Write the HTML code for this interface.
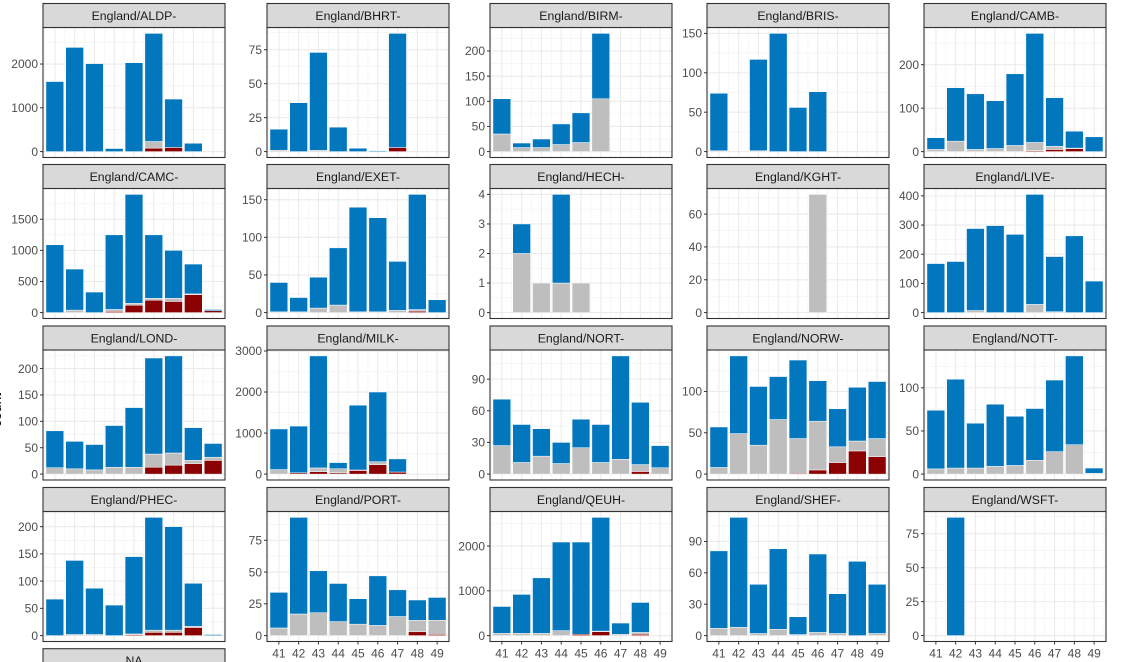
<!DOCTYPE html>
<html><head><meta charset="utf-8"><style>
html,body{margin:0;padding:0;background:#fff;}
svg{display:block;font-family:"Liberation Sans",Arial,sans-serif;}
</style></head><body>
<svg id="chart" width="1128" height="662" viewBox="0 0 1128 662"></svg>
<script>
const categories = [41,42,43,44,45,46,47,48,49];
const panelNames = ["England/ALDP-","England/BHRT-","England/BIRM-","England/BRIS-","England/CAMB-",
"England/CAMC-","England/EXET-","England/HECH-","England/KGHT-","England/LIVE-",
"England/LOND-","England/MILK-","England/NORT-","England/NORW-","England/NOTT-",
"England/PHEC-","England/PORT-","England/QEUH-","England/SHEF-","England/WSFT-"];
const redValues = [
[0,0,0,0,0,80,95,0,0],[0,0,0,0,0,0,3,0,0],[0,0,0,0,0,0,0,0,0],[0,0,0,0,0,0,0,0,0],[0,0,0,0,0,2,5,7,0],
[0,0,0,20,120,200,180,290,30],[0,0,0,0,0,0,0,2,0],[0,0,0,0,0,0,0,0,0],[0,0,0,0,0,0,0,0,0],[0,0,0,0,0,0,0,0,0],
[0,0,0,0,0,13,17,20,26],[0,30,60,30,90,230,50,0,0],[0,0,0,0,0,0,0,2.5,0],[0,0,0,0,1,5,14,28,21],[0,0,0,0,0,0,0,0,0],
[0,0,0,0,2,6,6,15,0],[0,0,0,0,0,0,0,3,1],[0,0,0,0,30,90,0,30,0],[0,0,0,0,0,0,0,0,0],[0,0,0,0,0,0,0,0,0]];
const greyValues = [
[0,0,0,0,0,150,0,0,0],[1,0,1,0,0,0,0,0,0],[35,8,8,14,18,105,0,0,0],[1,0,1,0,0,0,0,0,0],[5,24,5,7,14,19,7,1,0],
[0,40,0,30,30,30,50,10,0],[1,1,6,10,1,1,3,2,0],[0,2,1,1,1,0,0,0,0],[0,0,0,0,0,72,0,0,0],[0,0,7,0,0,28,3,0,0],
[12,10,8,13,13,25,23,6,6],[110,0,90,100,10,70,0,0,0],[27,11,17,10,25,11,14,6.5,6],[8,49,35,66,42,59,19,12,22],[6,7,7,9,10,16,26,34,1],
[0,2,2,0,1,4,4,2,0],[6,17,18,11,9,8,15,9,11],[50,50,50,110,0,10,30,40,0],[7,8,2,6,1,3,2,0,2],[0,0,0,0,0,0,0,0,0]];
const blueValues = [
[1600,2380,2010,70,2030,2470,1105,190,0],[15.5,36,72,18,2.5,0.7,84,0,0],[70,9,17,41,59,130,0,0,0],[73,0,116,150,56,76,0,0,0],[27,123,128,110,165,251,112,39,34],
[1090,660,330,1200,1750,1020,770,480,20],[39,19,41,76,139,125,65,153,17],[0,1,0,3,0,0,0,0,0],[0,0,0,0,0,0,0,0,0],[168,175,281,298,268,377,189,263,108],
[70,52,48,79,113,182,184,62,26],[990,1140,2730,150,1580,1700,320,0,0],[44,36,26,20,27,36,98,59,21],[49,94,71,52,95,49,46,65,69],[68,103,52,72,57,60,83,103,6],
[67,136,85,56,142,207,190,79,2],[28,76,33,30,20,39,21,16,18],[600,870,1240,1980,2060,2540,250,670,0],[74,105,47,77,17,75,38,71,47],[0,87,0,0,0,0,0,0,0]];
const yTicks = [
[0,1000,2000],[0,25,50,75],[0,50,100,150,200],[0,50,100,150],[0,100,200],
[0,500,1000,1500],[0,50,100,150],[0,1,2,3,4],[0,20,40,60],[0,100,200,300,400],
[0,50,100,150,200],[0,1000,2000,3000],[0,30,60,90],[0,50,100],[0,50,100],
[0,50,100,150,200],[0,25,50,75],[0,1000,2000],[0,30,60,90],[0,25,50,75]];

const NS="http://www.w3.org/2000/svg";
const svg=document.getElementById('chart');
function mk(tag,attrs,parent){const e=document.createElementNS(NS,tag);for(const k in attrs)e.setAttribute(k,attrs[k]);(parent||svg).appendChild(e);return e;}
const colX=[43,267,490,707,924];
const PW=182, STRIP=24, PH=130;
const rowTop=[3.5,164.5,326,487.5];

function xScale(c,left){return left+(c-40.4)/9.2*PW;}

panelNames.forEach((name,p)=>{
  const col=p%5,row=Math.floor(p/5);
  const left=colX[col],top=rowTop[row],pt=top+STRIP,pb=pt+PH;
  const g=mk('g',{});
  
  
  const totals=categories.map((c,i)=>redValues[p][i]+greyValues[p][i]+blueValues[p][i]);
  const maxV=Math.max(...totals);
  const lo=-0.05*maxV,hi=1.05*maxV;
  const y=v=>pb-(v-lo)/(hi-lo)*PH;
  mk('rect',{x:left,y:pt,width:PW,height:PH,fill:'#fff'},g);
  const tk=yTicks[p],step=tk[1]-tk[0];
  for(let v=step/2;v<hi;v+=step){if(v>lo)mk('line',{x1:left,x2:left+PW,y1:y(v),y2:y(v),stroke:'#f2f2f2','stroke-width':0.6},g);}
  for(let c=40.5;c<49.6;c+=1)mk('line',{x1:xScale(c,left),x2:xScale(c,left),y1:pt,y2:pb,stroke:'#f2f2f2','stroke-width':0.6},g);
  tk.forEach(v=>mk('line',{x1:left,x2:left+PW,y1:y(v),y2:y(v),stroke:'#ebebeb','stroke-width':1.1},g));
  categories.forEach(c=>mk('line',{x1:xScale(c,left),x2:xScale(c,left),y1:pt,y2:pb,stroke:'#ebebeb','stroke-width':1.1},g));
  categories.forEach((c,i)=>{
    const x0=xScale(c-0.45,left),w=xScale(c+0.45,left)-x0;
    let base=0;
    [[redValues[p][i],'#8b0000','red'],[greyValues[p][i],'#bebebe','grey'],[blueValues[p][i],'#0277bd','blue']].forEach(([v,f,nm])=>{
      if(v>0){
        const r=mk('rect',{x:x0,y:y(base+v),width:w,height:y(base)-y(base+v),fill:f,stroke:'#fff','stroke-width':0.5},g);
        
        
      }
      base+=v;
    });
  });
  mk('rect',{x:left,y:pt,width:PW,height:PH,fill:'none',stroke:'#333','stroke-width':1.1},g);
  const s=mk('rect',{x:left,y:top,width:PW,height:STRIP,fill:'#d9d9d9',stroke:'#333','stroke-width':1.1},g);
  
  
  const st=mk('text',{x:left+PW/2,y:top+16.5,'text-anchor':'middle','font-size':'12.3',fill:'#1a1a1a'},g);
  st.textContent=name;
  
  
  tk.forEach(v=>{
    mk('line',{x1:left-3,x2:left,y1:y(v),y2:y(v),stroke:'#333','stroke-width':1},g);
    const t=mk('text',{x:left-5,y:y(v)+4.2,'text-anchor':'end','font-size':'12',fill:'#4d4d4d'},g);
    t.textContent=v;
    
    
  });
  if(row===3&&col>0){
    categories.forEach(c=>{
      mk('line',{x1:xScale(c,left),x2:xScale(c,left),y1:pb,y2:pb+3,stroke:'#333','stroke-width':1},g);
      const t=mk('text',{x:xScale(c,left),y:pb+16,'text-anchor':'middle','font-size':'12',fill:'#4d4d4d'},g);
      t.textContent=c;
      
      
    });
  }
});
const na=mk('rect',{x:43,y:648.7,width:PW,height:24,fill:'#d9d9d9',stroke:'#333','stroke-width':1.1});


const nat=mk('text',{x:43+PW/2,y:665,'text-anchor':'middle','font-size':'12.3',fill:'#1a1a1a'});
nat.textContent='NA';


const yl=mk('text',{x:0,y:0,transform:'translate(1,410) rotate(-90)','text-anchor':'middle','font-size':'14',fill:'#000'});
yl.textContent='count';


</script>
</body></html>
